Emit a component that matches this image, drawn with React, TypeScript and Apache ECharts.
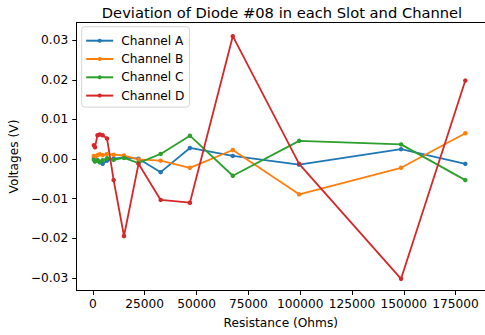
import React, { useEffect, useRef } from "react";
import * as echarts from "echarts";

// Resistor values (Ohms) shared by all channels
const resistances = [470, 1000, 2200, 3300, 4700, 6800, 10000, 15000, 22000, 32700, 46800, 67500, 99500, 148700, 179700];

// Voltage deviation (V) per channel
const channelA = [0.0003, 0.0002, -0.0003, -0.0008, -0.0012, -0.0004, 0.0001, 0.0004, 0.0001, -0.0033, 0.0028, 0.0008, -0.0014, 0.0025, -0.0012];
const channelB = [0.0008, 0.0005, 0.001, 0.0012, 0.001, 0.0013, 0.0011, 0.0009, -0.0001, -0.0004, -0.0022, 0.0023, -0.0089, -0.0022, 0.0065];
const channelC = [-0.0002, -0.0006, -0.0004, -0.0007, -0.0003, 0.0002, -0.0002, 0.0003, -0.001, 0.0013, 0.0059, -0.0042, 0.0046, 0.0037, -0.0053];
const channelD = [0.0035, 0.003, 0.006, 0.0062, 0.006, 0.0052, -0.0053, -0.0194, -0.0012, -0.0103, -0.011, 0.031, -0.0012, -0.0302, 0.0198];

const seriesNames = ["Channel A", "Channel B", "Channel C", "Channel D"];
const seriesValues = [channelA, channelB, channelC, channelD];
const colors = ["#1f77b4", "#ff7f0e", "#2ca02c", "#d62728"];

const xTicks = [0, 25000, 50000, 75000, 100000, 125000, 150000, 175000];
const yTicks = [-0.03, -0.02, -0.01, 0, 0.01, 0.02, 0.03];

const FONT = "DejaVu Sans";
const FS = 12.2;

export default function App() {
  const ref = useRef<HTMLDivElement>(null);

  useEffect(() => {
    if (!ref.current) return;
    const chart = echarts.init(ref.current, undefined, { renderer: "svg" });

    const fmtY = (v: number) => {
      const s = Math.abs(v).toFixed(2);
      return v < -1e-9 ? "\u2212" + s : s;
    };

    const axisLineStyle = { color: "#000", width: 1 };

    chart.setOption({
      animation: false,
      backgroundColor: "#fff",
      color: colors,
      grid: { left: 75.3, right: -4, top: 22.3, bottom: 44.3, containLabel: false },
      graphic: [
        {
          type: "text",
          x: 282,
          y: 12,
          style: {
            text: "Deviation of Diode #08 in each Slot and Channel",
            font: `14.7px "${FONT}"`,
            fill: "#000",
            textAlign: "center",
            textVerticalAlign: "middle",
          },
        },
      ],
      legend: {
        orient: "vertical",
        left: 81.7,
        top: 26.7,
        padding: [7, 5, 4.5, 3.5],
        itemWidth: 27,
        itemHeight: 5,
        itemGap: 4.3,
        backgroundColor: "rgba(255,255,255,0.8)",
        borderColor: "#d6d6d6",
        borderWidth: 1,
        borderRadius: 3,
        textStyle: { fontFamily: FONT, fontSize: FS, color: "#000", lineHeight: 14, padding: [0, 0, 0, 3] },
        data: seriesNames,
      },
      xAxis: [
        {
          type: "value",
          min: -7900,
          max: 189200,
          name: "Resistance (Ohms)",
          nameLocation: "middle",
          nameGap: 32,
          nameTextStyle: { fontFamily: FONT, fontSize: FS, color: "#000", verticalAlign: "middle" },
          splitLine: { show: false },
          axisLine: { show: true, onZero: false, lineStyle: axisLineStyle },
          axisTick: { show: true, length: 4.3, customValues: xTicks, lineStyle: { color: "#000", width: 1 } },
          axisLabel: {
            customValues: xTicks,
            margin: 7.5,
            fontFamily: FONT,
            fontSize: FS,
            color: "#000",
            formatter: (v: number) => String(Math.round(v)),
          },
        },
        {
          type: "value",
          position: "top",
          min: -7900,
          max: 189200,
          splitLine: { show: false },
          axisLine: { show: true, onZero: false, lineStyle: axisLineStyle },
          axisTick: { show: false },
          axisLabel: { show: false },
        },
      ],
      yAxis: {
        type: "value",
        min: -0.0332,
        max: 0.0345,
        name: "Voltages (V)",
        nameLocation: "middle",
        nameGap: 60,
        nameTextStyle: { fontFamily: FONT, fontSize: FS, color: "#000", verticalAlign: "middle" },
        splitLine: { show: false },
        axisLine: { show: true, onZero: false, lineStyle: axisLineStyle },
        axisTick: { show: true, length: 4.3, customValues: yTicks, lineStyle: { color: "#000", width: 1 } },
        axisLabel: {
          customValues: yTicks,
          margin: 8.3,
          fontFamily: FONT,
          fontSize: FS,
          color: "#000",
          formatter: fmtY,
        },
      },
      series: seriesNames.map((name, i) => ({
        name,
        type: "line",
        xAxisIndex: 0,
        data: resistances.map((r, j) => [r, seriesValues[i][j]]),
        symbol: "circle",
        symbolSize: 4.5,
        showSymbol: true,
        lineStyle: { width: 1.8, color: colors[i] },
        itemStyle: { color: colors[i] },
        emphasis: { disabled: true },
        clip: false,
      })),
    });

    return () => chart.dispose();
  }, []);

  return (
    <div
      ref={ref}
      style={{ position: "fixed", left: 0, top: 0, width: 485, height: 335 }}
    />
  );
}
